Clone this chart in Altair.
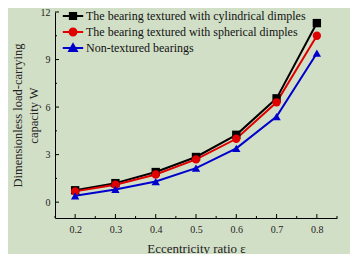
import altair as alt
import pandas as pd

ecc = [0.2, 0.3, 0.4, 0.5, 0.6, 0.7, 0.8]
cyl = [0.75, 1.2, 1.9, 2.85, 4.25, 6.55, 11.3]
sph = [0.68, 1.1, 1.75, 2.7, 4.0, 6.3, 10.5]
non = [0.4, 0.8, 1.3, 2.15, 3.4, 5.4, 9.4]
series = ["The bearing textured with cylindrical dimples",
          "The bearing textured with spherical dimples",
          "Non-textured bearings"]
colors = ["#000000", "#e00000", "#0000cc"]
shapes = ["square", "circle", "triangle-up"]
legend_paths = [
    "M-1.7,0L1.7,0M-0.52,-0.52L0.52,-0.52L0.52,0.52L-0.52,0.52Z",
    "M-1.7,0L1.7,0M-0.58,0A0.58,0.58,0,1,1,0.58,0A0.58,0.58,0,1,1,-0.58,0Z",
    "M-1.7,0L1.7,0M0,-0.64L0.64,0.49L-0.64,0.49Z",
]
x_ticks = [0.2, 0.3, 0.4, 0.5, 0.6, 0.7, 0.8]
x_minor = [0.15, 0.25, 0.35, 0.45, 0.55, 0.65, 0.75, 0.85]
y_ticks = [0, 3, 6, 9, 12]
y_minor = [1.5, 4.5, 7.5, 10.5]

rows = []
for name, vals in zip(series, [cyl, sph, non]):
    for e, w in zip(ecc, vals):
        rows.append({"ecc": e, "W": w, "s": name})
df = pd.DataFrame(rows)

W, H = 282, 206
FONT = "'Liberation Serif', 'Times New Roman', serif"
xs = alt.Scale(domain=[0.15, 0.85], nice=False, zero=False)
ys = alt.Scale(domain=[-1, 12], nice=False, zero=False)


def cs():
    return alt.Scale(domain=series, range=colors)


x_axis = alt.Axis(
    values=x_ticks, format=".1f", title="Eccentricity ratio ε", ticks=False,
    labelFont=FONT, labelFontSize=10, labelColor="#222", labelPadding=6,
    titleFont=FONT, titleFontSize=13, titleFontWeight="normal", titleColor="#222",
    titlePadding=8, domainColor="#000", grid=False)
y_axis = alt.Axis(
    values=y_ticks, title=["Dimensionless load-carrying", "capacity W"], ticks=False,
    labelFont=FONT, labelFontSize=10, labelColor="#222", labelPadding=5,
    titleFont=FONT, titleFontSize=12.5, titleFontWeight="normal", titleColor="#222",
    titlePadding=0, titleLineHeight=16, domainColor="#000", grid=False)

leg = alt.Legend(orient="none", legendX=11, legendY=-3, title=None,
                 symbolSize=144, symbolStrokeWidth=2, symbolOpacity=1,
                 labelFont=FONT, labelFontSize=12, labelColor="#111",
                 labelLimit=400, rowPadding=0, labelOffset=6)

base = alt.Chart(df).encode(
    x=alt.X("ecc:Q", scale=xs, axis=x_axis),
    y=alt.Y("W:Q", scale=ys, axis=y_axis),
)
lines = base.mark_line(strokeWidth=2).encode(
    color=alt.Color("s:N", scale=cs(), legend=None))
point_layers = [
    base.transform_filter(alt.datum.s == name).mark_point(
        filled=True, opacity=1, size=70, shape=shp).encode(
        color=alt.Color("s:N", scale=cs(), legend=None))
    for name, shp in zip(series, shapes)
]
dummy = base.mark_point(filled=True, opacity=0, size=1).encode(
    color=alt.Color("s:N", scale=cs(), legend=leg),
    stroke=alt.Stroke("s:N", scale=cs(), legend=leg),
    shape=alt.Shape("s:N", scale=alt.Scale(domain=series, range=legend_paths), legend=leg))

xt = alt.Chart(pd.DataFrame({"t": x_ticks})).mark_rule(color="#000").encode(
    x=alt.X("t:Q", scale=xs, axis=x_axis), y=alt.value(H), y2=alt.value(H - 4))
xm = alt.Chart(pd.DataFrame({"t": x_minor})).mark_rule(color="#000").encode(
    x=alt.X("t:Q", scale=xs, axis=x_axis), y=alt.value(H), y2=alt.value(H - 2))
yt = alt.Chart(pd.DataFrame({"t": y_ticks})).mark_rule(color="#000").encode(
    y=alt.Y("t:Q", scale=ys, axis=y_axis), x=alt.value(0), x2=alt.value(4))
ym = alt.Chart(pd.DataFrame({"t": y_minor})).mark_rule(color="#000").encode(
    y=alt.Y("t:Q", scale=ys, axis=y_axis), x=alt.value(0), x2=alt.value(2))

chart = alt.layer(lines, *point_layers, dummy, xt, xm, yt, ym).resolve_scale(
    color="independent", stroke="independent", shape="independent"
).properties(
    width=W, height=H,
    autosize=alt.AutoSizeParams(type="none"),
    padding={"left": 47, "top": 4, "right": 13, "bottom": 36},
    background="#d2dfc7",
).configure_view(stroke=None)

chart.save("out.html", embed_options={"renderer": "svg", "actions": False})
